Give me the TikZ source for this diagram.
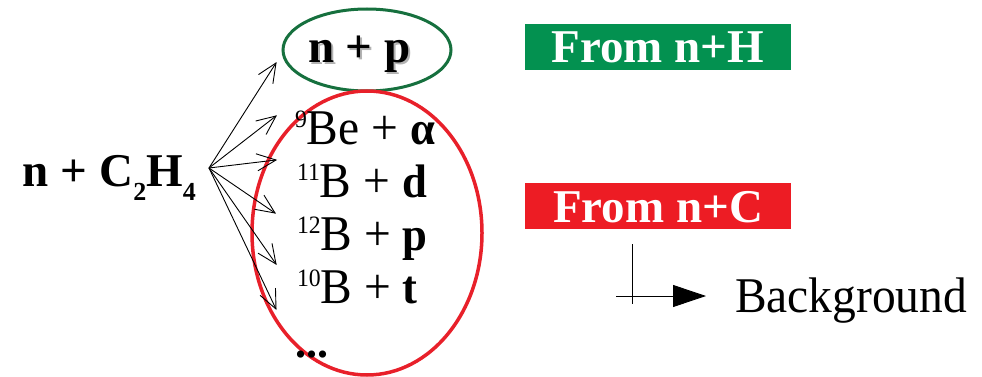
\documentclass[tikz,border=0pt]{standalone}
\usepackage{fontspec}
\setmainfont{Liberation Serif}
\newfontfamily\regf[FakeStretch=0.95]{Liberation Serif}
\usetikzlibrary{arrows.meta,calc}
\definecolor{ellgreen}{RGB}{22,112,62}
\definecolor{ellred}{RGB}{232,32,42}
\definecolor{boxgreen}{RGB}{3,145,80}
\definecolor{boxred}{RGB}{237,28,36}
\newcommand{\bigbold}{\fontsize{47}{50}\selectfont\bfseries}
\newcommand{\bigreg}{\regf\fontsize{50}{54}\selectfont}
\newcommand{\supnum}[1]{\raisebox{17pt}{\fontsize{25}{25}\selectfont #1}}
\newcommand{\subnum}[1]{\raisebox{-14pt}{\fontsize{26}{26}\selectfont\bfseries #1}}
\newcommand{\shadowed}[1]{\rlap{\hspace{2pt}\raisebox{-2pt}{\textcolor{black!30}{#1}}}#1}
\tikzset{
  txt/.style={inner sep=0pt, outer sep=0pt, anchor=base west},
  reac/.style={line width=0.9pt, line join=miter},
  labelbox/.style={inner sep=0pt, outer sep=0pt, minimum width=266pt, minimum height=46pt},
}
\begin{document}
\begin{tikzpicture}[x=1pt,y=-1pt]
\useasboundingbox (0,0) rectangle (982,377);
% ellipses
\draw[ellgreen, line width=3pt] (367,50) ellipse [x radius=84, y radius=41];
\draw[ellred, line width=3.5pt] (367,233) ellipse [x radius=115, y radius=142];
% reactant
\node[txt] (reac) at (23,186) {\bigbold n + C\subnum{2}H\subnum{4}};
% n+p with shadow
\node[txt] (np) at (308,63) {\bigbold\shadowed{n + p}};
% products
\node[txt] (be) at (295,144) {\bigreg\supnum{9}Be + {\bigbold α}};
\node[txt] (bd) at (297,197) {\bigreg\supnum{11}B + {\bigbold d}};
\node[txt] (bp) at (297,250) {\bigreg\supnum{12}B + {\bigbold p}};
\node[txt] (bt) at (297,303) {\bigreg\supnum{10}B + {\bigbold t}};
\node[txt] (dots) at (295,357) {\fontsize{44}{46}\selectfont\bfseries ...};
% arrows
\coordinate (src) at (209,168);
\coordinate (t1) at (276,63);
\coordinate (t2) at (276,116);
\coordinate (t3) at (276,160);
\coordinate (t4) at (275,213);
\coordinate (t5) at (276,264);
\coordinate (t6) at (276,309);
\foreach \t in {t1,t2,t3,t4,t5,t6} {
  \draw[reac] (src) -- (\t);
  \draw[reac] ($(\t)!21pt!24:(src)$) -- (\t) -- ($(\t)!21pt!-24:(src)$);
}
% label boxes
\node[labelbox, fill=boxgreen] (fromH) at (658,47) {};
\node[txt, anchor=base, text=white] (fromHtxt) at (658,63) {\bigbold From n+H};
\node[labelbox, fill=boxred] (fromC) at (658,206) {};
\node[txt, anchor=base, text=white] (fromCtxt) at (658,222) {\bigbold From n+C};
% background marker
\coordinate (vtop) at (632,244);
\coordinate (vbot) at (632,304);
\coordinate (hstart) at (616,296);
\coordinate (htip) at (706,296);
\draw[line width=0.9pt] (vtop) -- (vbot);
\draw[line width=0.9pt, -{Triangle[length=33pt,width=22pt]}] (hstart) -- (htip);
\node[txt] (bg) at (735,312) {\bigreg Background};
\end{tikzpicture}
\end{document}
